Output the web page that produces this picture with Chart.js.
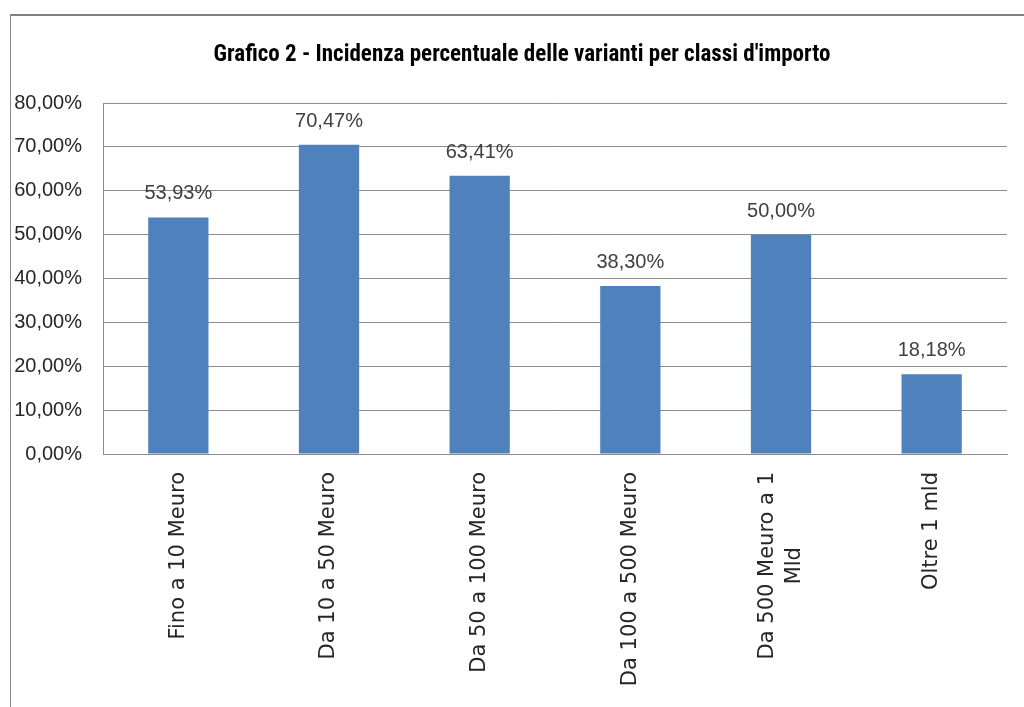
<!DOCTYPE html>
<html>
<head>
<meta charset="utf-8">
<script src="https://cdn.jsdelivr.net/npm/chart.js@4/dist/chart.umd.min.js"></script>
<style>
  html, body { margin: 0; padding: 0; background: #ffffff; }
  #wrap { position: relative; width: 1024px; height: 707px; }
</style>
</head>
<body>
<div id="wrap"><canvas id="c" width="1024" height="707"></canvas></div>
<script>
const titleText = "Grafico 2 - Incidenza percentuale delle varianti per classi d'importo";
const categories = [
  "Fino a 10 Meuro",
  "Da 10 a 50 Meuro",
  "Da 50 a 100 Meuro",
  "Da 100 a 500 Meuro",
  ["Da 500 Meuro a 1", "Mld"],
  "Oltre 1 mld"
];
const values = [53.93, 70.47, 63.41, 38.30, 50.00, 18.18];
const valueLabels = ["53,93%", "70,47%", "63,41%", "38,30%", "50,00%", "18,18%"];
const yTickLabels = ["0,00%", "10,00%", "20,00%", "30,00%", "40,00%", "50,00%", "60,00%", "70,00%", "80,00%"];

const labelFont = "20px 'Liberation Sans', Arial, sans-serif";
const catFont = "21px 'DejaVu Sans', Verdana, sans-serif";
const titleFont = "bold 23px 'Liberation Sans Narrow', 'Roboto Condensed', 'Liberation Sans', sans-serif";

const framePlugin = {
  id: 'frame',
  beforeDraw(chart) {
    const ctx = chart.ctx;
    ctx.save();
    ctx.fillStyle = '#ffffff';
    ctx.fillRect(0, 0, chart.width, chart.height);
    ctx.strokeStyle = '#808080';
    ctx.lineWidth = 2;
    ctx.beginPath();
    ctx.moveTo(10, 15);
    ctx.lineTo(chart.width, 15);
    ctx.stroke();
    ctx.lineWidth = 1;
    ctx.strokeStyle = '#8a8a8a';
    ctx.beginPath();
    ctx.moveTo(10.5, 15);
    ctx.lineTo(10.5, chart.height);
    ctx.stroke();
    // title
    ctx.font = titleFont;
    ctx.fillStyle = '#000000';
    ctx.textAlign = 'center';
    ctx.textBaseline = 'middle';
    ctx.fillText(titleText, 522, 55);
    ctx.restore();
  },
  afterDatasetsDraw(chart) {
    const ctx = chart.ctx;
    const meta = chart.getDatasetMeta(0);
    ctx.save();
    ctx.font = labelFont;
    ctx.fillStyle = '#404040';
    ctx.textAlign = 'center';
    ctx.textBaseline = 'alphabetic';
    meta.data.forEach((bar, i) => {
      ctx.fillText(valueLabels[i], bar.x, bar.y - 18);
    });
    // category labels, rotated, multi-line centered
    const xs = chart.scales.x;
    const top = chart.chartArea.bottom + 18;
    const lineH = 27;
    ctx.font = catFont;
    ctx.fillStyle = '#262626';
    ctx.textBaseline = 'middle';
    ctx.textAlign = 'right';
    categories.forEach((lab, i) => {
      const lines = Array.isArray(lab) ? lab : [lab];
      const x = xs.getPixelForValue(i);
      const widths = lines.map(l => ctx.measureText(l).width);
      const w = Math.max(...widths);
      lines.forEach((l, j) => {
        const off = (j - (lines.length - 1) / 2) * lineH;
        ctx.save();
        ctx.translate(x + off, top);
        ctx.rotate(-Math.PI / 2);
        ctx.fillText(l, -(w - widths[j]) / 2, 0);
        ctx.restore();
      });
    });
    ctx.restore();
  }
};

new Chart(document.getElementById('c'), {
  type: 'bar',
  data: {
    labels: categories,
    datasets: [{
      data: values,
      backgroundColor: '#4F81BD',
      borderWidth: 0,
      barPercentage: 0.4,
      categoryPercentage: 1.0
    }]
  },
  options: {
    responsive: false,
    animation: false,
    devicePixelRatio: 1,
    layout: { padding: { left: 0, right: 17, top: 103, bottom: 0 } },
    plugins: {
      legend: { display: false },
      tooltip: { enabled: false },
      title: { display: false }
    },
    scales: {
      x: {
        grid: { display: false, drawTicks: false },
        border: { display: true, color: '#8c8c8c', width: 1 },
        ticks: { display: false },
        afterFit(scale) { scale.height = 253; }
      },
      y: {
        min: 0,
        max: 80,
        grid: { color: '#8c8c8c', lineWidth: 1, drawTicks: false },
        border: { display: true, color: '#8c8c8c', width: 1 },
        ticks: {
          stepSize: 10,
          padding: 21,
          color: '#262626',
          font: { family: "'Liberation Sans', Arial, sans-serif", size: 20 },
          callback: (v, i) => yTickLabels[i]
        },
        afterFit(scale) { scale.width = 103; }
      }
    }
  },
  plugins: [framePlugin]
});
</script>
</body>
</html>
